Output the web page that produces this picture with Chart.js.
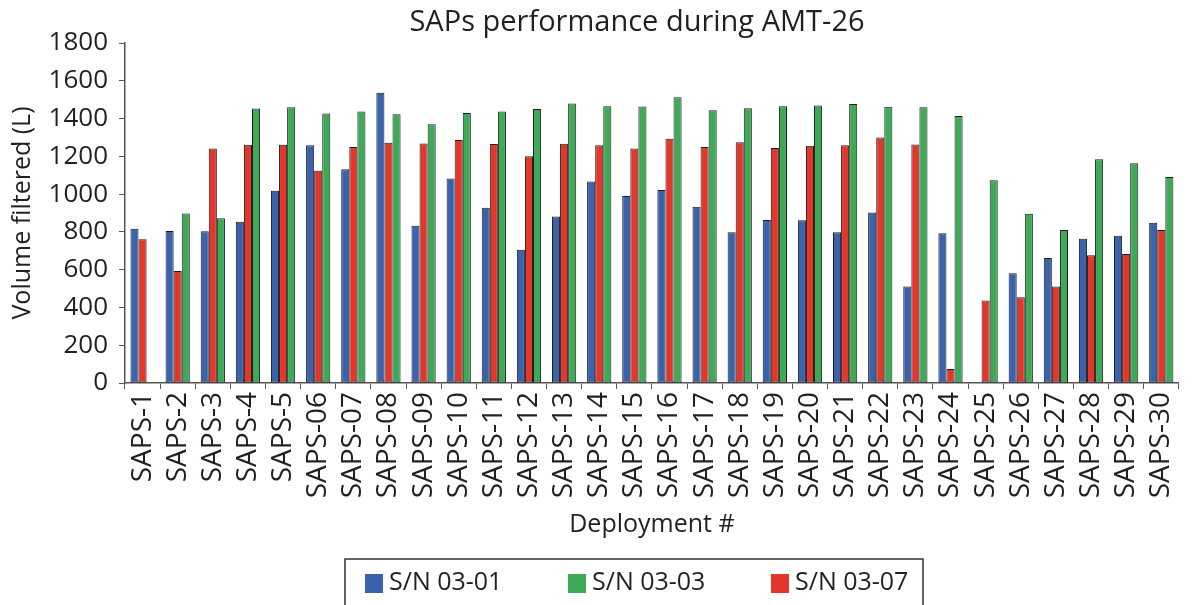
<!DOCTYPE html>
<html>
<head>
<meta charset="utf-8">
<script src="https://cdn.jsdelivr.net/npm/chart.js@4.4.1/dist/chart.umd.min.js"></script>
<style>
  html, body { margin: 0; padding: 0; background: #fff; overflow: hidden; }
</style>
</head>
<body>
<canvas id="sapsChart" width="1198" height="605"></canvas>
<script>
// values (litres filtered per deployment)
const deployments = ['SAPS-1','SAPS-2','SAPS-3','SAPS-4','SAPS-5','SAPS-06','SAPS-07','SAPS-08','SAPS-09','SAPS-10',
  'SAPS-11','SAPS-12','SAPS-13','SAPS-14','SAPS-15','SAPS-16','SAPS-17','SAPS-18','SAPS-19','SAPS-20',
  'SAPS-21','SAPS-22','SAPS-23','SAPS-24','SAPS-25','SAPS-26','SAPS-27','SAPS-28','SAPS-29','SAPS-30'];
const sn0301 = [817, 805, 803, 854, 1018, 1259, 1131, 1536, 833, 1083,
  928, 706, 881, 1067, 990, 1022, 933, 798, 863, 861,
  798, 902, 511, 793, null, 581, 662, 764, 780, 849];
const sn0307 = [761, 593, 1242, 1261, 1261, 1124, 1250, 1272, 1268, 1286,
  1265, 1200, 1266, 1259, 1242, 1293, 1250, 1275, 1244, 1256,
  1259, 1300, 1263, 74, 437, 454, 511, 676, 683, 810];
const sn0303 = [null, 898, 872, 1453, 1460, 1427, 1437, 1423, 1370, 1430,
  1437, 1450, 1480, 1465, 1464, 1513, 1444, 1455, 1465, 1469,
  1477, 1462, 1460, 1413, 1074, 896, 810, 1185, 1163, 1090];
const yMin = 0, yMax = 1800, yStep = 200;
const chartTitle = 'SAPs performance during AMT-26';

const FONT = "'Open Sans', 'Noto Sans', sans-serif";
const INK = '#231f20';

// title sits off-centre in the figure, so it is drawn here rather than by the title box
const figureTitle = {
  id: 'figureTitle',
  afterDraw(chart) {
    const ctx = chart.ctx;
    ctx.save();
    ctx.font = '29px ' + FONT;
    ctx.fillStyle = INK;
    ctx.textAlign = 'center';
    ctx.textBaseline = 'middle';
    ctx.fillText(chartTitle, 637, 23);
    ctx.restore();
  }
};

// boxed legend under the axis title (order: 03-01, 03-03, 03-07)
const boxedLegend = {
  id: 'boxedLegend',
  afterDraw(chart) {
    const ctx = chart.ctx;
    const order = [0, 2, 1];
    const left = 345, top = 559, w = 578, h = 70;
    ctx.save();
    ctx.strokeStyle = '#333';
    ctx.lineWidth = 1.5;
    ctx.strokeRect(left, top, w, h);
    ctx.font = '25px ' + FONT;
    ctx.textBaseline = 'middle';
    order.forEach((di, i) => {
      const ds = chart.data.datasets[di];
      const x = left + 20 + i * 203;
      ctx.fillStyle = ds.backgroundColor;
      ctx.fillRect(x, 574, 18, 19);
      ctx.fillStyle = INK;
      ctx.fillText(ds.label, x + 24, 583);
    });
    ctx.restore();
  }
};

function renderChart() {
  const ctx = document.getElementById('sapsChart');
  new Chart(ctx, {
    type: 'bar',
    data: {
      labels: deployments,
      datasets: [
        { label: 'S/N 03-01', data: sn0301, backgroundColor: '#3b62ad' },
        { label: 'S/N 03-07', data: sn0307, backgroundColor: '#e3372b' },
        { label: 'S/N 03-03', data: sn0303, backgroundColor: '#3eaa57' }
      ]
    },
    options: {
      responsive: false,
      animation: false,
      layout: { padding: { left: 0, right: 8, top: 43, bottom: 57 } },
      datasets: {
        bar: { categoryPercentage: 0.69, barPercentage: 1.0, borderWidth: 1, borderColor: '#1e1e1e', borderSkipped: false }
      },
      plugins: {
        legend: { display: false },
        tooltip: { enabled: false },
        title: { display: false }
      },
      scales: {
        x: {
          afterFit(scale) { scale.height = 165; },
          grid: { offset: true, drawOnChartArea: false, drawTicks: true, tickLength: 6, color: '#555' },
          border: { color: '#555', width: 1.5 },
          ticks: { color: INK, autoSkip: false, maxRotation: 90, minRotation: 90, padding: 3,
                   font: { family: FONT, size: 28 } },
          title: { display: true, text: 'Deployment #', color: INK,
                   font: { family: FONT, size: 25 }, padding: { top: 4, bottom: 8 } }
        },
        y: {
          min: yMin, max: yMax,
          afterFit(scale) { scale.width = 125; },
          grid: { drawOnChartArea: false, drawTicks: true, tickLength: 6, color: '#555' },
          border: { color: '#555', width: 1.5 },
          ticks: { stepSize: yStep, color: INK, padding: 11, font: { family: FONT, size: 26 },
                   callback: v => String(v) },
          title: { display: true, text: 'Volume filtered (L)', color: INK,
                   font: { family: FONT, size: 25 }, padding: { top: 8, bottom: 4 } }
        }
      }
    },
    plugins: [figureTitle, boxedLegend]
  });
}

renderChart();
</script>
</body>
</html>
